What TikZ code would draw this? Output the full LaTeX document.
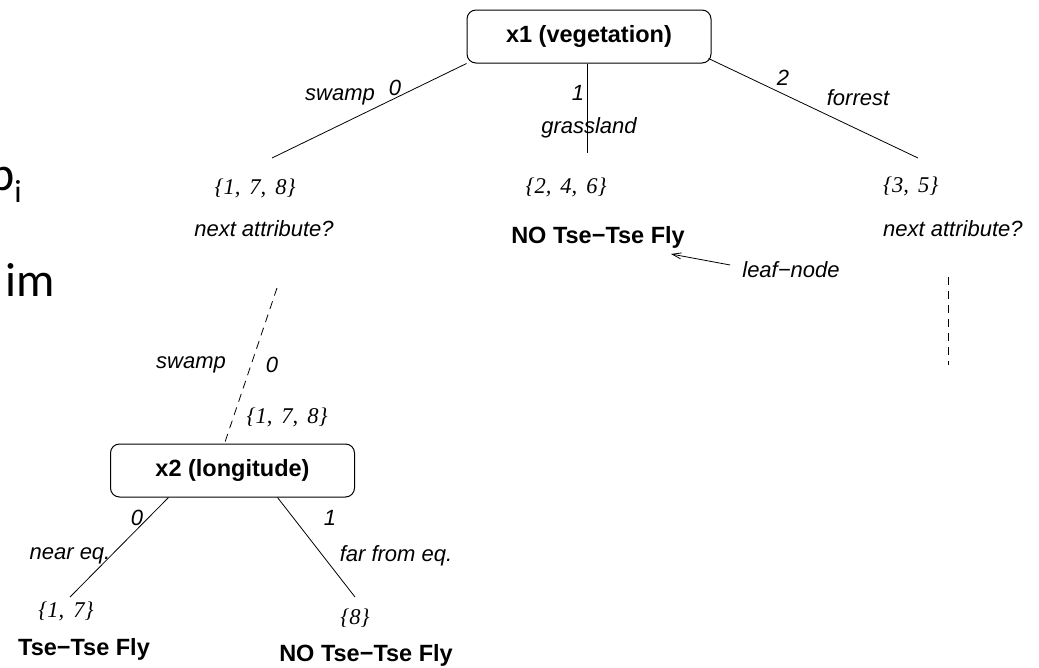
\documentclass[tikz,border=0pt]{standalone}
\usepackage{fontspec}
\setmainfont{Liberation Sans}
\newfontfamily\setfont[WordSpace=1.6]{Liberation Serif}
\newfontfamily\slidefont{Carlito}
\usetikzlibrary{arrows.meta,calc}

\begin{document}
\begin{tikzpicture}[x=1pt,y=-1pt,
  attrbox/.style={draw, rounded corners=9pt, minimum width=244pt, minimum height=53pt,
    inner sep=0pt, line width=1pt, font=\fontsize{23.5}{27}\selectfont\bfseries},
  lab/.style={inner sep=0pt, font=\fontsize{22}{26}\selectfont\itshape},
  setlab/.style={inner sep=0pt, font=\setfont\fontsize{22.5}{26}\selectfont\itshape},
  result/.style={inner sep=0pt, font=\fontsize{23.5}{27}\selectfont\bfseries},
  slidetext/.style={inner sep=0pt, anchor=base west, font=\slidefont\fontsize{48}{56}\selectfont},
  branch/.style={line width=0.8pt},
  further/.style={line width=0.8pt, dash pattern=on 8pt off 6pt},
]
\useasboundingbox (0,0) rectangle (1039,667);

% slide text at the left edge, cut off by the page
\node[slidetext] (ptxt) at (-11,190) {p\raisebox{-12pt}{\fontsize{32}{36}\selectfont i}};
\node[slidetext] (imtxt) at (5,296) {im};

% root attribute
\node[attrbox] (x1) at (589,36.5) {x1 (vegetation)};

\coordinate (e0) at (272,158);
\coordinate (e1) at (587,153);
\coordinate (e2) at (918,158);
\draw[branch] (x1.south west) -- (e0);
\draw[branch] (x1.south -| e1) -- (e1);
\draw[branch] ($(x1.south east)+(-3,-5)$) -- (e2);

\node[lab] (sw1) at (340,97) {swamp};
\node[lab] (z1) at (395,88) {0};
\node[lab] (o1) at (578,93) {1};
\node[lab] (gr) at (589,128) {grassland};
\node[lab] (t2) at (783,78) {2};
\node[lab] (fo) at (858,98) {forrest};

% outcomes of the first split
\node[setlab] (s178) at (255,188) {\{1, 7, 8\}};
\node[lab] (na1) at (264,229) {next attribute?};
\node[setlab] (s246) at (566,187) {\{2, 4, 6\}};
\node[result] (no1) at (598,237) {NO Tse−Tse Fly};
\node[setlab, anchor=west] (s35) at (883,186) {\{3, 5\}};
\node[lab, anchor=west] (na2) at (883,229) {next attribute?};

% leaf annotation
\node[lab] (leaf) at (791,270) {leaf−node};
\coordinate (lt) at (671,254);
\draw[line width=0.8pt, -{Straight Barb[length=9pt,width=6pt]}] (leaf.west) ++(-12,-5) -- (lt);

% continuation below the forest branch
\coordinate (d1) at (948,277);
\coordinate (d2) at (948,365);
\draw[further] (d1) -- (d2);

% second attribute
\node[attrbox] (x2) at (232.5,470.5) {x2 (longitude)};
\coordinate (dtop) at (277,288);
\draw[further] (dtop) -- ($(x2.north)+(-8,0)$);
\node[lab] (sw2) at (191,365) {swamp};
\node[lab] (z2) at (272,365) {0};
\node[setlab] (s178b) at (287,417) {\{1, 7, 8\}};

\coordinate (f0) at (70,597);
\coordinate (f1) at (355,597);
\draw[branch] ($(x2.south)+(-64,0)$) -- (f0);
\draw[branch] ($(x2.south)+(45,0)$) -- (f1);

\node[lab] (z3) at (137,518) {0};
\node[lab] (near) at (70,556) {near eq.};
\node[lab] (o3) at (330,518) {1};
\node[lab] (far) at (396,556) {far from eq.};

\node[setlab] (s17) at (66,611) {\{1, 7\}};
\node[result] (tt) at (84,649) {Tse−Tse Fly};
\node[setlab] (s8) at (355,618) {\{8\}};
\node[result] (no2) at (366,655) {NO Tse−Tse Fly};
\end{tikzpicture}
\end{document}
